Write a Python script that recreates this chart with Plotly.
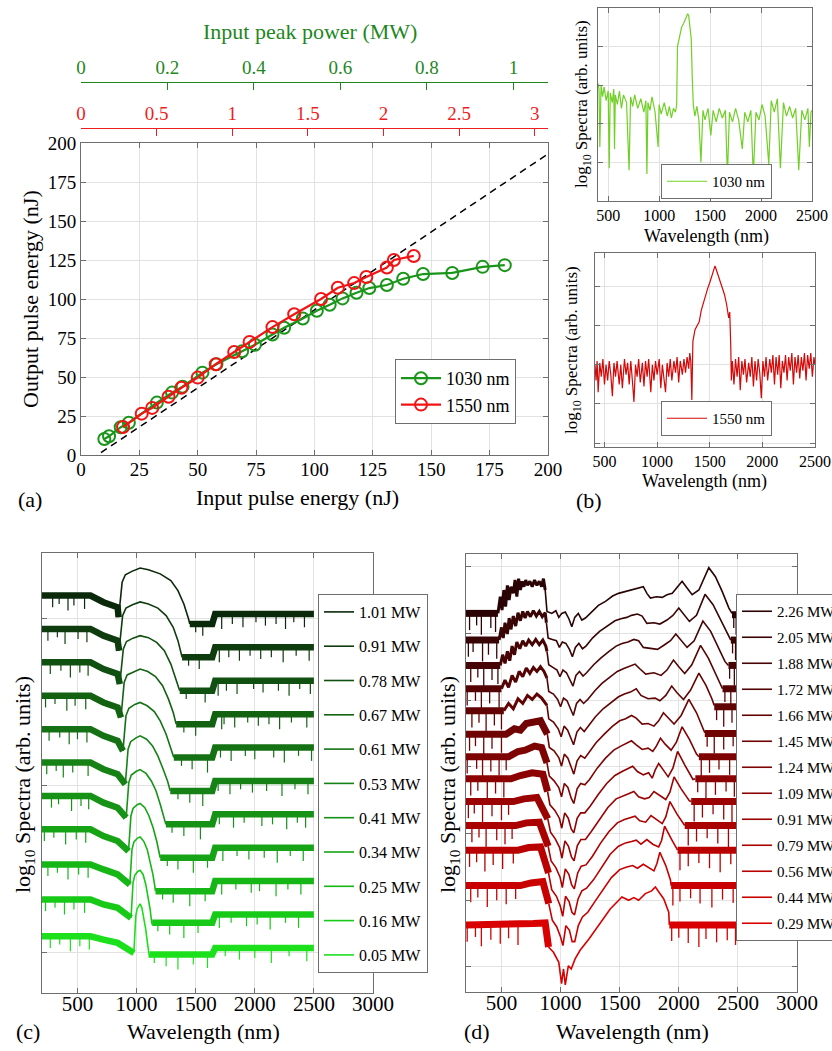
import plotly.graph_objects as go

# ---------------- panel (a) data ----------------
e_in_1030 = [10, 12, 17, 20.5, 32.5, 39, 43.5, 52, 58, 69, 74.5, 82, 87, 95, 101, 106.5, 112, 118, 123.5, 131, 138, 146.5, 159, 172, 181.5]
e_out_1030 = [10.3, 12, 17.8, 20.7, 33.6, 40, 43.8, 52.8, 58.2, 66.5, 70.7, 77.2, 81.6, 87.5, 92.5, 96.3, 100.4, 104, 107, 109, 113, 116, 116.7, 120.6, 121.7]
e_in_1550 = [18, 26, 30.5, 37.5, 43, 50, 57.7, 65.6, 72.2, 82, 91.3, 102.8, 110, 117, 122.2, 131, 134, 142.5]
e_out_1550 = [17.9, 26.5, 30.2, 37.3, 43.1, 49.6, 58.2, 66, 72.5, 82, 90.2, 100, 107.2, 110.2, 114.1, 120.2, 125, 127.6]
ref_x = [0, 200]
ref_y = [-7, 193]
power_1030_ticks = [0, 0.2, 0.4, 0.6, 0.8, 1]
power_1550_ticks = [0, 0.5, 1, 1.5, 2, 2.5, 3]
energy_ticks = [0, 25, 50, 75, 100, 125, 150, 175, 200]

# ---------------- panel (b) data ----------------
b1030_wl = [400, 410, 418, 430, 445, 460, 480, 500, 510, 520, 540, 555, 562, 570, 590, 610, 630, 650, 680, 705,
            720, 740, 760, 790, 820, 850, 870, 880, 890, 910, 930, 960, 990, 1000, 1020, 1050, 1080, 1100, 1120,
            1140, 1160, 1172, 1180, 1200, 1220, 1240, 1260, 1280, 1290, 1300, 1315, 1325, 1335, 1350, 1370, 1390,
            1410, 1430, 1450, 1480, 1507, 1530, 1560, 1590, 1620, 1650, 1670, 1690, 1720, 1750, 1780, 1816, 1840,
            1870, 1900, 1924, 1950, 1980, 2010, 2040, 2076, 2100, 2130, 2160, 2190, 2220, 2250, 2280, 2310, 2340,
            2370, 2400, 2430, 2460, 2474, 2490, 2500]
b1030_val = [3.05, 2.9, 1.4, 3.0, 2.7, 2.95, 2.6, 2.85, 0.85, 2.8, 2.55, 2.9, 1.35, 2.75, 2.5, 2.85, 2.4, 2.75, 2.55, 0.8,
             2.7, 2.45, 2.75, 2.4, 2.65, 2.3, 2.6, 0.7, 2.55, 2.35, 2.7, 2.3, 1.4, 2.5, 2.25, 2.55, 2.2, 2.45, 2.15,
             2.4, 2.3, 2.5, 4.0, 4.3, 4.5, 4.6, 4.72, 4.85, 4.8, 4.6, 4.2, 3.2, 2.5, 2.2, 2.45, 2.1,
             1.0, 2.35, 2.1, 2.4, 1.7, 2.35, 2.05, 2.4, 2.15, 2.35, 0.65, 2.3, 2.05, 2.4, 2.1, 1.35, 2.3,
             2.05, 2.35, 0.65, 2.3, 2.1, 2.5, 2.2, 0.95, 2.6, 2.3, 2.65, 0.85, 2.55, 2.2, 2.45, 2.15, 2.4,
             0.8, 2.35, 2.1, 2.4, 1.4, 2.3, 2.35]
b1550_wl = [410, 420, 430, 440, 455, 470, 485, 500, 515, 530, 545, 560, 575, 590, 605, 620, 640, 655, 670, 690,
            705, 720, 735, 750, 765, 780, 795, 810, 825, 840, 860, 875, 890, 905, 920, 940, 955, 970, 985, 1000,
            1020, 1035, 1050, 1065, 1080, 1095, 1110, 1125, 1140, 1160, 1175, 1190, 1205, 1220, 1240, 1255, 1270,
            1285, 1300, 1310, 1320, 1330, 1340, 1360, 1380, 1400, 1420, 1440, 1460, 1480, 1500, 1520, 1540, 1550,
            1560, 1580, 1600, 1620, 1640, 1660, 1680, 1690, 1695, 1700, 1705, 1715, 1730, 1745, 1760, 1775, 1790,
            1805, 1820, 1835, 1850, 1870, 1885, 1900, 1915, 1930, 1945, 1960, 1975, 1990, 2005, 2020, 2035, 2050,
            2070, 2085, 2100, 2115, 2130, 2145, 2160, 2175, 2190, 2205, 2220, 2235, 2250, 2265, 2280, 2295, 2310,
            2325, 2340, 2355, 2370, 2385, 2400, 2415, 2430, 2445, 2460, 2475, 2490, 2500]
b1550_val = [2.0, 1.6, 2.1, 1.3, 2.05, 1.7, 2.15, 1.5, 2.0, 1.6, 2.1, 1.75, 1.2, 2.05, 1.7, 2.1, 1.5, 2.0, 1.4, 2.15,
             1.75, 2.05, 1.5, 2.1, 1.6, 1.05, 2.0, 1.7, 2.15, 1.55, 2.05, 1.45, 2.1, 1.7, 2.15, 1.3, 2.0, 1.6, 2.1, 1.75,
             2.15, 1.4, 2.0, 1.55, 1.3, 2.05, 1.7, 2.15, 1.6, 2.1, 1.8, 2.2, 1.55, 2.1, 1.75, 2.15, 1.8,
             2.2, 1.9, 2.3, 2.1, 1.1, 2.6, 2.9, 3.0, 3.1, 3.4, 3.6, 3.8, 3.95, 4.1, 4.3, 4.5, 4.53,
             4.45, 4.3, 4.1, 3.95, 3.8, 3.55, 3.2, 3.35, 3.05, 2.45, 1.6, 2.1, 1.5, 2.15, 1.7, 2.2, 1.35,
             2.1, 1.75, 2.15, 1.55, 2.05, 1.7, 2.2, 1.45, 2.1, 1.6, 2.15, 1.8, 1.15, 2.1, 1.7, 2.2, 1.6,
             2.15, 1.8, 2.25, 1.5, 2.2, 1.75, 2.25, 1.4, 2.1, 1.8, 2.25, 1.6, 2.2, 1.85, 2.3, 1.5, 2.2,
             1.8, 2.25, 1.65, 2.2, 1.85, 2.3, 1.6, 2.25, 1.9, 2.3, 1.7, 2.2, 2.0]
b_wl_ticks = [500, 1000, 1500, 2000, 2500]

# ---------------- panel (c) data ----------------
c_labels = ["1.01 MW", "0.91 MW", "0.78 MW", "0.67 MW", "0.61 MW", "0.53 MW",
            "0.41 MW", "0.34 MW", "0.25 MW", "0.16 MW", "0.05 MW"]
c_base = [2.03, 1.83, 1.63, 1.43, 1.23, 1.03, 0.83, 0.63, 0.43, 0.23, 0.03]
c_peak_wl = [
    [848, 862, 878, 905, 960, 1030, 1100, 1200, 1290, 1350, 1400, 1440, 1450],
    [852, 866, 882, 910, 965, 1030, 1100, 1180, 1250, 1310, 1350, 1375, 1385],
    [858, 872, 888, 915, 970, 1030, 1100, 1170, 1235, 1290, 1330, 1355, 1365],
    [868, 880, 895, 920, 975, 1030, 1095, 1160, 1220, 1270, 1310, 1335],
    [885, 897, 910, 935, 985, 1030, 1090, 1150, 1200, 1250, 1290, 1315],
    [905, 916, 928, 950, 995, 1030, 1085, 1135, 1180, 1225, 1262, 1285],
    [912, 922, 934, 955, 998, 1030, 1080, 1125, 1165, 1200, 1230, 1248],
    [932, 941, 952, 970, 1005, 1030, 1070, 1105, 1140, 1170, 1190, 1200],
    [943, 951, 961, 978, 1008, 1030, 1060, 1090, 1115, 1138, 1152, 1160],
    [953, 961, 970, 985, 1010, 1030, 1055, 1078, 1098, 1115, 1125, 1132],
    [978, 985, 993, 1005, 1020, 1030, 1045, 1062, 1078, 1092, 1102, 1110],
]
c_peak_rel = [
    [-0.02, 0.10, 0.19, 0.235, 0.255, 0.275, 0.265, 0.24, 0.20, 0.14, 0.06, -0.03, -0.06],
    [-0.02, 0.10, 0.19, 0.235, 0.255, 0.272, 0.26, 0.235, 0.19, 0.12, 0.04, -0.03, -0.06],
    [-0.02, 0.10, 0.19, 0.235, 0.255, 0.27, 0.258, 0.23, 0.18, 0.10, 0.02, -0.04, -0.06],
    [-0.02, 0.10, 0.19, 0.235, 0.255, 0.27, 0.255, 0.225, 0.17, 0.09, 0.01, -0.06],
    [-0.02, 0.10, 0.19, 0.235, 0.258, 0.27, 0.25, 0.215, 0.16, 0.08, 0.0, -0.06],
    [-0.02, 0.10, 0.19, 0.235, 0.258, 0.27, 0.25, 0.21, 0.15, 0.07, 0.0, -0.06],
    [-0.02, 0.10, 0.19, 0.235, 0.258, 0.268, 0.245, 0.20, 0.14, 0.06, -0.01, -0.06],
    [-0.02, 0.10, 0.19, 0.235, 0.258, 0.265, 0.24, 0.19, 0.12, 0.04, -0.02, -0.06],
    [-0.02, 0.10, 0.19, 0.235, 0.258, 0.265, 0.24, 0.19, 0.12, 0.04, -0.02, -0.06],
    [-0.02, 0.10, 0.19, 0.235, 0.258, 0.265, 0.24, 0.18, 0.11, 0.03, -0.03, -0.06],
    [-0.02, 0.10, 0.19, 0.235, 0.258, 0.264, 0.24, 0.18, 0.11, 0.03, -0.03, -0.06],
]
c_noise_wl = [
    [200, 610, 720, 840, 848, None, 1450, 1640, 1665, 2500],
    [200, 610, 720, 840, 852, None, 1385, 1640, 1665, 2500],
    [200, 610, 720, 840, 858, None, 1365, 1640, 1665, 2500],
    [200, 610, 720, 840, 868, None, 1335, 1640, 1665, 2500],
    [200, 610, 720, 840, 885, None, 1315, 1640, 1665, 2500],
    [200, 610, 720, 840, 905, None, 1285, 1640, 1665, 2500],
    [200, 610, 720, 840, 912, None, 1248, 1640, 1665, 2500],
    [200, 610, 720, 840, 932, None, 1200, 1640, 1665, 2500],
    [200, 610, 720, 840, 943, None, 1160, 1640, 1665, 2500],
    [200, 610, 720, 840, 953, None, 1132, 1640, 1665, 2500],
    [200, 610, 720, 840, 978, None, 1110, 1640, 1665, 2500],
]
c_noise_rel = [
    [0.11, 0.11, 0.07, 0.04, -0.02, None, -0.06, -0.06, 0.0, 0.0],
    [0.11, 0.11, 0.07, 0.04, -0.02, None, -0.06, -0.06, 0.0, 0.0],
    [0.11, 0.11, 0.07, 0.04, -0.02, None, -0.06, -0.06, 0.0, 0.0],
    [0.11, 0.11, 0.07, 0.04, -0.02, None, -0.06, -0.06, 0.0, 0.0],
    [0.11, 0.11, 0.07, 0.04, -0.02, None, -0.06, -0.06, 0.0, 0.0],
    [0.11, 0.11, 0.07, 0.04, -0.02, None, -0.06, -0.06, 0.0, 0.0],
    [0.11, 0.11, 0.07, 0.04, -0.02, None, -0.06, -0.06, 0.0, 0.0],
    [0.11, 0.11, 0.07, 0.04, -0.02, None, -0.06, -0.06, 0.0, 0.0],
    [0.10, 0.10, 0.07, 0.04, -0.02, None, -0.06, -0.06, 0.0, 0.0],
    [0.09, 0.09, 0.06, 0.04, -0.02, None, -0.05, -0.05, 0.0, 0.0],
    [0.07, 0.07, 0.05, 0.03, -0.03, None, -0.04, -0.04, 0.0, 0.0],
]
# downward noise spikes (wavelengths) in the flat noisy stretches
c_spike_wl = [
    [290, 345, 420, 470, 560, 1500, 1560, 1720, 1810, 1900, 2010, 2090, 2180, 2260, 2330, 2420],
    [250, 330, 395, 505, 580, 1440, 1530, 1700, 1780, 1870, 1960, 2050, 2140, 2240, 2350, 2460],
    [270, 360, 440, 520, 590, 1420, 1580, 1690, 1760, 1850, 1990, 2070, 2200, 2290, 2380, 2470],
    [230, 310, 410, 480, 570, 1400, 1500, 1720, 1740, 1830, 1940, 2030, 2120, 2210, 2310, 2440],
    [260, 350, 430, 500, 580, 1380, 1470, 1600, 1710, 1800, 1920, 2000, 2160, 2250, 2370, 2480],
    [240, 320, 380, 460, 590, 1350, 1450, 1560, 1690, 1790, 1880, 1980, 2100, 2230, 2340, 2450],
    [280, 340, 450, 530, 595, 1300, 1400, 1540, 1700, 1820, 1910, 2060, 2150, 2270, 2360, 2430],
    [220, 300, 400, 490, 570, 1260, 1350, 1480, 1600, 1730, 1850, 1950, 2080, 2190, 2300, 2410],
    [250, 330, 420, 510, 590, 1220, 1310, 1450, 1580, 1720, 1840, 1970, 2040, 2180, 2280, 2390],
    [230, 310, 390, 470, 560, 1180, 1280, 1400, 1520, 1700, 1800, 1930, 2020, 2130, 2260, 2370],
    [270, 350, 440, 520, 600, 1150, 1250, 1350, 1480, 1600, 1750, 1870, 2000, 2140, 2290, 2440],
]
c_spike_depth = [0.07, 0.05, 0.09, 0.06, 0.08, 0.05, 0.07, 0.09, 0.06, 0.08, 0.05, 0.07, 0.06, 0.09, 0.05, 0.08]
cd_wl_ticks = [500, 1000, 1500, 2000, 2500, 3000]

# ---------------- panel (d) data ----------------
d_labels = ["2.26 MW", "2.05 MW", "1.88 MW", "1.72 MW", "1.66 MW", "1.45 MW", "1.24 MW",
            "1.09 MW", "0.91 MW", "0.79 MW", "0.56 MW", "0.44 MW", "0.29 MW"]
d_base = [5.60, 5.21, 4.83, 4.45, 4.07, 3.69, 3.31, 2.93, 2.57, 2.21, 1.86, 1.50, 1.02]
d_smooth_wl = [
    [870, 885, 925, 960, 985, 1010, 1040, 1070, 1095, 1120, 1150, 1180, 1210, 1265, 1320, 1380, 1440, 1490, 1550, 1605, 1650, 1700, 1730, 1760, 1810, 1860, 1900, 1945, 1990, 2028, 2070, 2113, 2170, 2210, 2254, 2310, 2367, 2424, 2450],
    [880, 895, 930, 965, 990, 1015, 1045, 1075, 1100, 1125, 1155, 1185, 1215, 1270, 1330, 1400, 1460, 1510, 1560, 1600, 1650, 1690, 1730, 1790, 1840, 1900, 1950, 2000, 2045, 2090, 2150, 2222, 2290, 2350, 2410, 2440],
    [885, 900, 935, 970, 995, 1020, 1050, 1080, 1105, 1130, 1160, 1190, 1220, 1280, 1340, 1410, 1470, 1520, 1570, 1620, 1660, 1700, 1760, 1820, 1880, 1930, 1975, 2020, 2070, 2130, 2204, 2270, 2330, 2390, 2420],
    [885, 900, 940, 975, 1000, 1025, 1055, 1085, 1108, 1135, 1165, 1195, 1230, 1290, 1350, 1420, 1480, 1530, 1580, 1630, 1670, 1720, 1790, 1850, 1900, 1955, 2000, 2050, 2110, 2184, 2250, 2310, 2370],
    [885, 900, 940, 980, 1005, 1030, 1060, 1088, 1110, 1138, 1168, 1200, 1235, 1295, 1360, 1430, 1490, 1540, 1590, 1640, 1680, 1740, 1800, 1840, 1890, 1940, 1985, 2040, 2100, 2170, 2230, 2280, 2300],
    [888, 905, 945, 985, 1008, 1032, 1062, 1090, 1112, 1140, 1170, 1205, 1240, 1300, 1370, 1440, 1500, 1550, 1600, 1640, 1690, 1740, 1790, 1830, 1870, 1910, 1960, 2020, 2085, 2150, 2200, 2220],
    [885, 905, 945, 985, 1008, 1032, 1062, 1090, 1112, 1140, 1170, 1205, 1245, 1310, 1380, 1450, 1510, 1560, 1600, 1640, 1690, 1740, 1780, 1810, 1845, 1885, 1935, 1980, 2028, 2090, 2150, 2170],
    [890, 910, 950, 990, 1010, 1035, 1065, 1090, 1112, 1140, 1170, 1205, 1250, 1320, 1390, 1460, 1520, 1570, 1610, 1650, 1700, 1745, 1775, 1800, 1830, 1870, 1910, 1950, 1990, 2050, 2120, 2140],
    [892, 915, 955, 992, 1012, 1037, 1067, 1092, 1114, 1142, 1172, 1210, 1260, 1330, 1400, 1470, 1530, 1580, 1620, 1660, 1710, 1750, 1790, 1840, 1890, 1925, 1960, 2020, 2090, 2105],
    [895, 920, 960, 995, 1015, 1040, 1070, 1094, 1116, 1145, 1175, 1215, 1270, 1340, 1410, 1480, 1540, 1590, 1630, 1670, 1720, 1765, 1810, 1860, 1890, 1925, 1985, 2040, 2050],
    [898, 925, 965, 998, 1018, 1042, 1072, 1096, 1118, 1148, 1180, 1220, 1280, 1350, 1420, 1490, 1550, 1600, 1640, 1680, 1730, 1780, 1830, 1855, 1880, 1940, 1985, 1990],
    [900, 930, 968, 1000, 1020, 1045, 1075, 1098, 1120, 1150, 1185, 1230, 1290, 1360, 1430, 1500, 1560, 1610, 1650, 1700, 1750, 1790, 1815, 1840, 1890, 1930, 1935],
    [898, 940, 985, 1008, 1025, 1040, 1066, 1090, 1123, 1165, 1240, 1320, 1420, 1519, 1560, 1576, 1620, 1660, 1717, 1770, 1802, 1840, 1873, 1915, 1920],
]
d_smooth_rel = [
    [0.05, -0.27, -0.30, -0.26, -0.36, -0.30, -0.28, -0.38, -0.50, -0.36, -0.30, -0.40, -0.37, -0.27, -0.18, -0.12, -0.04, 0.0, 0.03, 0.05, 0.07, 0.10, 0.0, -0.07, -0.05, -0.06, -0.02, 0.0, 0.10, 0.18, 0.08, -0.02, 0.05, 0.22, 0.385, 0.25, 0.03, -0.22, -0.30],
    [-0.05, -0.28, -0.30, -0.32, -0.42, -0.34, -0.36, -0.45, -0.56, -0.42, -0.36, -0.44, -0.40, -0.28, -0.18, -0.10, -0.02, 0.01, 0.03, 0.06, 0.08, 0.05, -0.06, -0.05, -0.07, -0.01, 0.06, 0.17, 0.07, -0.03, 0.06, 0.375, 0.22, 0.0, -0.22, -0.31],
    [-0.10, -0.30, -0.34, -0.38, -0.48, -0.38, -0.42, -0.52, -0.62, -0.46, -0.40, -0.47, -0.42, -0.30, -0.20, -0.10, -0.02, 0.02, 0.04, 0.08, 0.06, -0.04, -0.05, -0.07, 0.0, 0.06, 0.16, 0.06, -0.04, 0.06, 0.355, 0.20, -0.02, -0.25, -0.31],
    [-0.12, -0.32, -0.36, -0.44, -0.55, -0.42, -0.46, -0.58, -0.68, -0.50, -0.44, -0.50, -0.44, -0.31, -0.20, -0.10, -0.02, 0.02, 0.05, 0.09, 0.02, -0.06, -0.04, -0.08, 0.0, 0.15, 0.05, -0.05, 0.08, 0.37, 0.18, -0.05, -0.28],
    [-0.15, -0.35, -0.40, -0.50, -0.62, -0.46, -0.52, -0.64, -0.74, -0.55, -0.48, -0.54, -0.46, -0.32, -0.20, -0.10, -0.02, 0.02, 0.05, 0.10, 0.0, -0.05, -0.04, -0.08, 0.0, 0.14, 0.04, -0.06, 0.08, 0.335, 0.15, -0.05, -0.15],
    [-0.20, -0.40, -0.45, -0.55, -0.68, -0.50, -0.56, -0.70, -0.80, -0.60, -0.52, -0.56, -0.48, -0.33, -0.20, -0.08, 0.0, 0.03, 0.08, 0.04, -0.05, -0.04, -0.08, 0.0, 0.12, 0.04, -0.05, 0.08, 0.32, 0.12, -0.10, -0.18],
    [-0.25, -0.45, -0.52, -0.62, -0.76, -0.56, -0.62, -0.78, -0.86, -0.64, -0.56, -0.58, -0.50, -0.33, -0.18, -0.06, 0.0, 0.04, 0.08, 0.02, -0.05, -0.03, -0.08, 0.0, 0.12, 0.03, -0.06, 0.06, 0.29, 0.10, -0.12, -0.16],
    [-0.30, -0.50, -0.58, -0.70, -0.85, -0.62, -0.70, -0.86, -0.92, -0.70, -0.62, -0.62, -0.52, -0.34, -0.18, -0.06, 0.0, 0.04, 0.08, 0.0, -0.05, -0.02, -0.10, 0.02, 0.12, 0.02, -0.08, 0.05, 0.30, 0.10, -0.12, -0.11],
    [-0.35, -0.55, -0.65, -0.78, -0.94, -0.68, -0.76, -0.92, -0.98, -0.75, -0.66, -0.66, -0.54, -0.35, -0.18, -0.05, 0.0, 0.03, 0.06, -0.02, -0.05, -0.03, 0.06, 0.0, -0.06, 0.05, 0.28, 0.10, -0.08, -0.09],
    [-0.40, -0.62, -0.72, -0.86, -1.02, -0.74, -0.82, -0.98, -1.04, -0.80, -0.70, -0.68, -0.55, -0.35, -0.18, -0.05, 0.0, 0.03, 0.05, -0.02, -0.04, 0.06, 0.0, -0.06, 0.04, 0.27, 0.08, -0.06, -0.09],
    [-0.45, -0.70, -0.80, -0.95, -1.10, -0.80, -0.88, -1.04, -1.08, -0.84, -0.72, -0.68, -0.55, -0.35, -0.17, -0.05, 0.0, 0.02, 0.04, -0.02, 0.05, -0.02, -0.06, 0.04, 0.25, 0.05, -0.10, -0.11],
    [-0.55, -0.80, -0.90, -1.05, -1.18, -0.88, -0.95, -1.12, -1.12, -0.88, -0.75, -0.68, -0.52, -0.33, -0.16, -0.04, 0.0, 0.02, -0.02, 0.04, -0.02, -0.06, 0.05, 0.22, 0.02, -0.20, -0.28],
    [-0.72, -0.80, -0.95, -1.27, -1.05, -1.29, -1.0, -1.05, -0.90, -0.77, -0.60, -0.40, -0.15, 0.03, 0.0, -0.02, 0.02, -0.02, 0.08, 0.12, 0.18, 0.08, 0.0, -0.20, -0.39],
]
d_noise_wl = [
    [200, 470, None, 2450, 2500],
    [200, 480, None, 2440, 2500],
    [200, 490, None, 2420, 2500],
    [200, 500, None, 2370, 2500],
    [200, 520, None, 2300, 2500],
    [200, 540, 610, 660, 710, 770, 830, 888, None, 2220, 2500],
    [200, 560, 640, 700, 780, 840, 885, None, 2170, 2500],
    [200, 580, 660, 760, 850, 890, None, 2140, 2500],
    [200, 600, 690, 800, 892, None, 2105, 2500],
    [200, 620, 710, 820, 895, None, 2050, 2500],
    [200, 640, 730, 830, 898, None, 1990, 2500],
    [200, 660, 750, 850, 900, None, 1935, 2500],
    [200, 680, 770, 870, 898, None, 1920, 2500],
]
d_noise_rel = [
    [-0.30, -0.30, None, -0.32, -0.32],
    [-0.31, -0.31, None, -0.31, -0.31],
    [-0.31, -0.31, None, -0.31, -0.31],
    [-0.28, -0.28, None, -0.28, -0.28],
    [-0.23, -0.23, None, -0.17, -0.17],
    [-0.20, -0.20, -0.12, -0.14, -0.04, -0.02, 0.0, -0.20, None, -0.19, -0.19],
    [-0.16, -0.16, -0.08, -0.06, 0.0, -0.02, -0.25, None, -0.16, -0.16],
    [-0.11, -0.11, -0.06, -0.02, -0.04, -0.30, None, -0.11, -0.11],
    [-0.09, -0.09, -0.05, -0.03, -0.35, None, -0.09, -0.09],
    [-0.09, -0.09, -0.05, -0.04, -0.40, None, -0.09, -0.09],
    [-0.11, -0.11, -0.07, -0.06, -0.45, None, -0.11, -0.11],
    [-0.28, -0.28, -0.24, -0.22, -0.55, None, -0.28, -0.28],
    [-0.39, -0.39, -0.37, -0.36, -0.72, None, -0.39, -0.39],
]
d_spiky_wl = [
    [470, 490, 505, 520, 535, 550, 565, 580, 600, 615, 630, 645, 660, 675, 690, 705, 720, 740, 760, 780, 800, 820, 840, 855, 870],
    [480, 500, 515, 530, 550, 565, 580, 600, 620, 640, 660, 680, 700, 720, 745, 770, 795, 820, 845, 870, 880],
    [490, 510, 530, 550, 570, 590, 610, 630, 655, 680, 705, 730, 760, 790, 820, 850, 875, 885],
    [500, 530, 560, 590, 620, 650, 680, 710, 740, 770, 800, 830, 860, 885],
    [520, 560, 600, 640, 680, 720, 760, 800, 840, 885],
]
d_spiky_rel = [
    [-0.30, -0.05, -0.25, 0.05, -0.20, 0.12, -0.10, 0.10, 0.0, 0.20, -0.05, 0.22, 0.05, 0.18, 0.10, 0.20, 0.12, 0.18, 0.10, 0.20, 0.12, 0.18, 0.10, 0.22, 0.05],
    [-0.31, -0.12, -0.28, -0.05, -0.22, 0.02, -0.15, 0.05, -0.10, 0.10, -0.02, 0.12, 0.02, 0.12, 0.04, 0.13, 0.05, 0.12, 0.04, 0.10, -0.05],
    [-0.31, -0.15, -0.28, -0.10, -0.24, -0.02, -0.15, 0.04, -0.06, 0.06, -0.02, 0.07, 0.0, 0.08, 0.0, 0.07, -0.02, -0.10],
    [-0.28, -0.15, -0.26, -0.08, -0.18, -0.02, -0.10, 0.03, -0.05, 0.04, -0.02, 0.05, -0.02, -0.12],
    [-0.23, -0.12, -0.20, -0.05, -0.12, 0.0, -0.06, 0.02, -0.04, -0.15],
]
# downward noise spikes on the flat noisy stretches of (d)
d_spike_wl = [
    [230, 290, 330, 410, 450, 2465, 2485],
    [220, 260, 340, 390, 460, 2455, 2480],
    [240, 300, 350, 420, 470, 2430, 2470],
    [210, 280, 330, 400, 480, 2390, 2440, 2490],
    [250, 310, 370, 440, 500, 2320, 2380, 2450],
    [230, 280, 350, 420, 500, 2240, 2300, 2380, 2460],
    [210, 290, 340, 410, 480, 540, 2190, 2260, 2340, 2430],
    [240, 300, 380, 450, 520, 2160, 2230, 2310, 2400, 2470],
    [220, 270, 340, 420, 500, 560, 2130, 2200, 2290, 2380, 2450],
    [250, 310, 370, 460, 530, 590, 2080, 2150, 2240, 2330, 2420],
    [230, 290, 360, 430, 510, 600, 2010, 2080, 2170, 2260, 2350, 2440],
    [240, 300, 380, 460, 540, 620, 1950, 2010, 2100, 2180, 2280, 2370, 2460],
    [210, 280, 330, 410, 490, 560, 640, 1940, 2000, 2080, 2170, 2230, 2320, 2410, 2480],
]
d_spike_depth = [0.25, 0.18, 0.32, 0.22, 0.28, 0.20, 0.30, 0.24, 0.19, 0.27, 0.33, 0.21, 0.26, 0.23, 0.30]

# ---------------- styles ----------------
W, H = 832, 1051
FONT = "Liberation Serif"
GRID = "rgb(226,226,226)"
FRAME = "rgb(110,110,110)"
GREEN_A = "rgb(25,150,25)"
RED_A = "rgb(242,20,20)"
GREEN_AX = "rgb(30,135,30)"
RED_AX = "rgb(238,30,30)"
B_GREEN = "rgb(112,208,38)"
B_RED = "rgb(212,8,8)"
c_colors = ["rgb(10,40,10)", "rgb(14,60,14)", "rgb(16,80,16)", "rgb(18,98,18)", "rgb(20,114,20)",
            "rgb(22,130,22)", "rgb(22,146,22)", "rgb(22,164,22)", "rgb(22,182,22)", "rgb(24,202,24)",
            "rgb(28,224,28)"]
d_colors = ["rgb(42,4,4)", "rgb(56,4,4)", "rgb(70,4,4)", "rgb(84,4,4)", "rgb(98,3,3)", "rgb(112,3,3)",
            "rgb(126,3,3)", "rgb(140,2,2)", "rgb(155,2,2)", "rgb(170,1,1)", "rgb(185,1,1)",
            "rgb(200,0,0)", "rgb(216,0,0)"]


def px(x):
    return x / W


def py(y):
    return 1 - y / H


def spikes(wls, tops, depths):
    xs, ys = [], []
    for w, t, d in zip(wls, tops, depths):
        xs += [w, w, None]
        ys += [t, t - d, None]
    return xs, ys


fig = go.Figure()

# ---- panel (a) ----
fig.add_trace(go.Scatter(x=ref_x, y=ref_y, mode="lines", xaxis="x", yaxis="y",
                         line=dict(color="black", width=1.5, dash="7px,5px"),
                         showlegend=False, hoverinfo="skip"))
fig.add_trace(go.Scatter(x=e_in_1030, y=e_out_1030, mode="lines+markers", name="1030 nm",
                         xaxis="x", yaxis="y", legend="legend",
                         line=dict(color=GREEN_A, width=2.2),
                         marker=dict(symbol="circle-open", size=12, color=GREEN_A, line=dict(width=2, color=GREEN_A))))
fig.add_trace(go.Scatter(x=e_in_1550, y=e_out_1550, mode="lines+markers", name="1550 nm",
                         xaxis="x", yaxis="y", legend="legend",
                         line=dict(color=RED_A, width=2.2),
                         marker=dict(symbol="circle-open", size=12, color=RED_A, line=dict(width=2, color=RED_A))))
fig.add_trace(go.Scatter(x=[None], y=[None], xaxis="x2", yaxis="y", showlegend=False, hoverinfo="skip"))
fig.add_trace(go.Scatter(x=[None], y=[None], xaxis="x3", yaxis="y", showlegend=False, hoverinfo="skip"))

# ---- panel (b) ----
fig.add_trace(go.Scatter(x=b1030_wl, y=b1030_val, mode="lines", name="1030 nm", xaxis="x4", yaxis="y4",
                         legend="legend2", line=dict(color=B_GREEN, width=1.2)))
fig.add_trace(go.Scatter(x=b1550_wl, y=b1550_val, mode="lines", name="1550 nm", xaxis="x5", yaxis="y5",
                         legend="legend3", line=dict(color=B_RED, width=1.2)))

# ---- panel (c) ----
for i, lab in enumerate(c_labels):
    base = c_base[i]
    col = c_colors[i]
    ny = [None if v is None else base + v for v in c_noise_rel[i]]
    fall_end = c_peak_wl[i][-1]
    tops = []
    for w in c_spike_wl[i]:
        if w < 610:
            tops.append(base + c_noise_rel[i][0])
        elif w < 1650:
            tops.append(base + c_noise_rel[i][6])
        else:
            tops.append(base)
    sx, sy = spikes(c_spike_wl[i], tops, c_spike_depth)
    fig.add_trace(go.Scatter(x=sx, y=sy, mode="lines", xaxis="x6", yaxis="y6",
                             line=dict(color=col, width=1.2), showlegend=False, legend="legend4",
                             legendgroup="c%d" % i, hoverinfo="skip"))
    fig.add_trace(go.Scatter(x=c_noise_wl[i], y=ny, mode="lines", xaxis="x6", yaxis="y6",
                             line=dict(color=col, width=6.5), showlegend=False, legend="legend4",
                             legendgroup="c%d" % i, hoverinfo="skip", connectgaps=False))
    fig.add_trace(go.Scatter(x=c_peak_wl[i], y=[base + v for v in c_peak_rel[i]], mode="lines",
                             xaxis="x6", yaxis="y6", name=lab, legend="legend4", legendgroup="c%d" % i,
                             line=dict(color=col, width=1.6)))

# ---- panel (d) ----
for k, lab in enumerate(d_labels):
    base = d_base[k]
    col = d_colors[k]
    ny = [None if v is None else base + v for v in d_noise_rel[k]]
    tops = [base + (d_noise_rel[k][0] if w < 1000 else d_noise_rel[k][-1]) for w in d_spike_wl[k]]
    sx, sy = spikes(d_spike_wl[k], tops, d_spike_depth)
    fig.add_trace(go.Scatter(x=sx, y=sy, mode="lines", xaxis="x7", yaxis="y7",
                             line=dict(color=col, width=1.3), showlegend=False, legend="legend5",
                             legendgroup="d%d" % k, hoverinfo="skip"))
    fig.add_trace(go.Scatter(x=d_noise_wl[k], y=ny, mode="lines", xaxis="x7", yaxis="y7",
                             line=dict(color=col, width=7), showlegend=False, legend="legend5",
                             legendgroup="d%d" % k, hoverinfo="skip", connectgaps=False))
    if k < len(d_spiky_wl):
        fig.add_trace(go.Scatter(x=d_spiky_wl[k], y=[base + v for v in d_spiky_rel[k]], mode="lines",
                                 xaxis="x7", yaxis="y7", line=dict(color=col, width=3),
                                 showlegend=False, legend="legend5", legendgroup="d%d" % k,
                                 hoverinfo="skip"))
    fig.add_trace(go.Scatter(x=d_smooth_wl[k], y=[base + v for v in d_smooth_rel[k]], mode="lines",
                             xaxis="x7", yaxis="y7", name=lab, legend="legend5", legendgroup="d%d" % k,
                             line=dict(color=col, width=1.6)))


def box_axis(domain, rng, tickvals, anchor, fs, labels=True, standoff=0):
    return dict(domain=domain, range=rng, tickvals=tickvals, anchor=anchor,
                showgrid=True, gridcolor=GRID, gridwidth=1, zeroline=False,
                showline=True, linecolor=FRAME, linewidth=1, mirror="ticks",
                ticks="inside", ticklen=5, tickcolor=FRAME, tickwidth=1,
                ticklabelstandoff=standoff,
                showticklabels=labels, tickfont=dict(family=FONT, size=fs, color="black"))


layout = dict(
    width=W, height=H,
    margin=dict(l=0, r=0, t=0, b=0, autoexpand=False),
    paper_bgcolor="white", plot_bgcolor="white",
    font=dict(family=FONT, color="black"),
    xaxis=box_axis([px(81), px(548)], [0, 200], energy_ticks, "y", 19, standoff=-3),
    yaxis=box_axis([py(455), py(143)], [0, 200], energy_ticks, "x", 19),
    xaxis2=dict(overlaying="x", anchor="free", position=py(82), side="top", range=[0, 1.08],
                tickvals=power_1030_ticks + [1.08],
                ticktext=[str(v) for v in power_1030_ticks] + [""],
                ticks="inside", ticklen=7, tickcolor=GREEN_AX, showline=True, linecolor=GREEN_AX,
                showgrid=False, zeroline=False, tickfont=dict(family=FONT, size=19, color=GREEN_AX)),
    xaxis3=dict(overlaying="x", anchor="free", position=py(128), side="top", range=[0, 3.087],
                tickvals=power_1550_ticks + [3.087],
                ticktext=[str(v) for v in power_1550_ticks] + [""],
                ticks="inside", ticklen=7, tickcolor=RED_AX, showline=True, linecolor=RED_AX,
                showgrid=False, zeroline=False, tickfont=dict(family=FONT, size=19, color=RED_AX)),
    xaxis4=box_axis([px(598), px(812)], [400, 2500], b_wl_ticks, "y4", 16),
    yaxis4=box_axis([py(201), py(8)], [0, 5.0], [0, 1, 2, 3, 4, 5], "x4", 16, labels=False),
    xaxis5=box_axis([px(595), px(815)], [410, 2500], b_wl_ticks, "y5", 16),
    yaxis5=box_axis([py(447), py(253)], [-0.1, 4.86], [0, 1, 2, 3, 4], "x5", 16, labels=False),
    xaxis6=box_axis([px(42), px(373)], [200, 3000], cd_wl_ticks, "y6", 21, standoff=-8),
    yaxis6=box_axis([py(993), py(553)], [-0.24, 2.395], [0, 1, 2], "x6", 21, labels=False),
    xaxis7=box_axis([px(466), px(797)], [200, 3000], cd_wl_ticks, "y7", 21, standoff=-8),
    yaxis7=box_axis([py(992), py(554)], [-0.375, 6.19], [0, 1, 2, 3, 4, 5, 6], "x7", 21, labels=False),
    legend=dict(x=px(395), y=py(359), xanchor="left", yanchor="top", bgcolor="white",
                bordercolor=FRAME, borderwidth=1, font=dict(family=FONT, size=18), itemwidth=40),
    legend2=dict(x=px(661), y=py(164), xanchor="left", yanchor="top", bgcolor="white",
                 bordercolor=FRAME, borderwidth=1, font=dict(family=FONT, size=15), itemwidth=40),
    legend3=dict(x=px(661), y=py(401), xanchor="left", yanchor="top", bgcolor="white",
                 bordercolor=FRAME, borderwidth=1, font=dict(family=FONT, size=15), itemwidth=40),
    legend4=dict(x=px(318), y=py(594), xanchor="left", yanchor="top", bgcolor="white",
                 bordercolor=FRAME, borderwidth=1, font=dict(family=FONT, size=16),
                 tracegroupgap=10.5, traceorder="grouped"),
    legend5=dict(x=px(736), y=py(594), xanchor="left", yanchor="top", bgcolor="white",
                 bordercolor=FRAME, borderwidth=1, font=dict(family=FONT, size=15),
                 tracegroupgap=3.5, traceorder="grouped"),
    showlegend=True,
)
fig.update_layout(**layout)


def ann(text, x, y, size, angle=0, color="black"):
    fig.add_annotation(text=text, x=px(x), y=py(y), xref="paper", yref="paper", showarrow=False,
                       xanchor="center", yanchor="middle", textangle=angle,
                       font=dict(family=FONT, size=size, color=color))


ann("Input peak power (MW)", 310, 32, 22, color=GREEN_AX)
ann("Output pulse energy (nJ)", 30, 299, 22, angle=-90)
ann("Input pulse energy (nJ)", 297, 497, 22)
ann("(a)", 30, 499, 22)
ann("log<sub>10</sub> Spectra (arb. units)", 583, 104, 17, angle=-90)
ann("Wavelength (nm)", 706, 237, 18)
ann("log<sub>10</sub> Spectra (arb. units)", 573, 350, 17, angle=-90)
ann("Wavelength (nm)", 704, 481, 18)
ann("(b)", 589, 500, 22)
ann("log<sub>10</sub> Spectra (arb. units)", 24, 785, 22, angle=-90)
ann("Wavelength (nm)", 203, 1031, 22)
ann("(c)", 28, 1031, 22)
ann("log<sub>10</sub> Spectra (arb. units)", 449, 785, 22, angle=-90)
ann("Wavelength (nm)", 632, 1031, 22)
ann("(d)", 477, 1031, 22)

fig.write_html("out.html", config={"displayModeBar": False},
               post_script="document.body.style.margin='0px';")
